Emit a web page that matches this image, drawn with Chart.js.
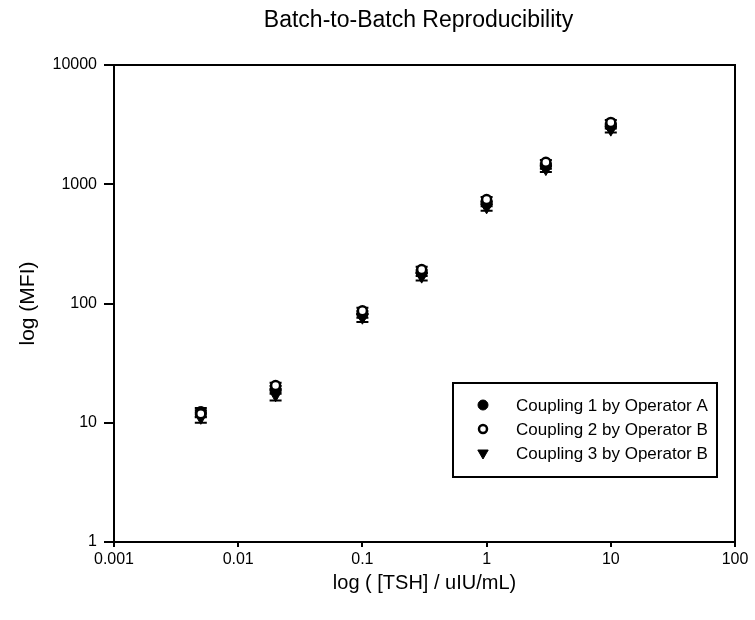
<!DOCTYPE html>
<html>
<head>
<meta charset="utf-8">
<script src="https://cdn.jsdelivr.net/npm/chart.js"></script>
<style>
  html, body { margin: 0; padding: 0; background: #fff; }
</style>
</head>
<body>
<canvas id="tshChart" width="755" height="620"></canvas>
<script>
  // TSH concentration (uIU/mL) and MFI per coupling
  const concentrations = [0.005, 0.02, 0.1, 0.3, 1, 3, 10];
  const coupling1 = [12.3, 18.9, 81, 180, 690, 1420, 3080];
  const coupling2 = [11.9, 20.5, 87, 193, 745, 1530, 3300];
  const coupling3 = [11.0, 17.0, 76, 168, 640, 1340, 2870];
  const err1 = [1.0, 1.4, 5, 10, 35, 70, 150];
  const err2 = [0.8, 1.2, 5, 10, 35, 70, 150];
  const err3 = [1.0, 1.6, 6, 12, 40, 75, 160];
  const seriesNames = ['Coupling 1 by Operator A', 'Coupling 2 by Operator B', 'Coupling 3 by Operator B'];
  const xTickValues = [0.001, 0.01, 0.1, 1, 10, 100];
  const yTickValues = [1, 10, 100, 1000, 10000];

  const FONT = '"Liberation Sans", Arial, Helvetica, sans-serif';
  Chart.defaults.font.family = FONT;
  Chart.defaults.color = '#000';

  const toPoints = (vals, errs) => concentrations.map((x, i) => ({ x: x, y: vals[i], err: errs[i] }));

  const datasets = [
    { label: seriesNames[0], data: toPoints(coupling1, err1), order: 1,
      pointStyle: 'circle', pointRadius: 5.5, pointBackgroundColor: '#000', pointBorderColor: '#000', pointBorderWidth: 1 },
    { label: seriesNames[1], data: toPoints(coupling2, err2), order: 0,
      pointStyle: 'circle', pointRadius: 4.5, pointBackgroundColor: '#fff', pointBorderColor: '#000', pointBorderWidth: 2.5 },
    { label: seriesNames[2], data: toPoints(coupling3, err3), order: 2,
      pointStyle: 'triangle', pointRotation: 180, pointRadius: 6.5, pointBackgroundColor: '#000', pointBorderColor: '#000', pointBorderWidth: 1 }
  ];

  const errorBars = {
    id: 'errorBars',
    beforeDatasetsDraw(chart) {
      const { ctx, scales } = chart;
      ctx.save();
      ctx.strokeStyle = '#000';
      ctx.lineWidth = 2;
      chart.data.datasets.forEach(ds => {
        ds.data.forEach(p => {
          const px = scales.x.getPixelForValue(p.x);
          const top = scales.y.getPixelForValue(p.y + p.err);
          const bot = scales.y.getPixelForValue(p.y - p.err);
          ctx.beginPath();
          ctx.moveTo(px, top); ctx.lineTo(px, bot);
          ctx.moveTo(px - 6, top); ctx.lineTo(px + 6, top);
          ctx.moveTo(px - 6, bot); ctx.lineTo(px + 6, bot);
          ctx.stroke();
        });
      });
      ctx.restore();
    }
  };

  const frameAndText = {
    id: 'frameAndText',
    afterDraw(chart) {
      const { ctx, chartArea: a } = chart;
      ctx.save();
      ctx.strokeStyle = '#000';
      ctx.lineWidth = 2;
      ctx.strokeRect(a.left, a.top, a.right - a.left, a.bottom - a.top);

      // title
      ctx.fillStyle = '#000';
      ctx.font = '23px ' + FONT;
      ctx.textAlign = 'center';
      ctx.textBaseline = 'middle';
      ctx.fillText('Batch-to-Batch Reproducibility', (a.left + a.right) / 2 - 6, 21);

      // legend box
      const bx = a.right - 282, by = a.bottom - 159, bw = 264, bh = 94;
      ctx.strokeRect(bx, by, bw, bh);
      ctx.font = '17px ' + FONT;
      ctx.textAlign = 'left';
      chart.data.datasets.forEach((ds, i) => {
        const ly = by + 22 + i * 24;
        ctx.fillStyle = ds.pointBackgroundColor;
        ctx.strokeStyle = ds.pointBorderColor;
        ctx.lineWidth = ds.pointBorderWidth;
        Chart.helpers.drawPoint(ctx, {
          pointStyle: ds.pointStyle, rotation: ds.pointRotation || 0,
          radius: ds.pointRadius - 0.5, borderWidth: ds.pointBorderWidth
        }, bx + 30, ly);
        ctx.fillStyle = '#000';
        ctx.fillText(ds.label, bx + 63, ly + 1);
      });
      ctx.restore();
    }
  };

  new Chart(document.getElementById('tshChart'), {
    type: 'scatter',
    data: { datasets: datasets },
    options: {
      responsive: false,
      animation: false,
      layout: { padding: { top: 65, right: 20, left: 0, bottom: 0 } },
      plugins: { legend: { display: false }, tooltip: { enabled: false } },
      scales: {
        x: {
          type: 'logarithmic', min: 0.001, max: 100,
          afterBuildTicks: s => { s.ticks = xTickValues.map(v => ({ value: v })); },
          afterFit: s => { s.height = 78; },
          grid: { display: true, drawOnChartArea: false, drawTicks: true, tickLength: 5, color: '#000', lineWidth: 2 },
          border: { display: true, color: '#000', width: 2 },
          ticks: { color: '#000', font: { size: 16 }, padding: 3, maxRotation: 0, autoSkip: false,
                   callback: v => String(v) },
          title: { display: true, text: 'log ( [TSH] / uIU/mL)', color: '#000', font: { size: 20 }, padding: { bottom: 25 } }
        },
        y: {
          type: 'logarithmic', min: 1, max: 10000,
          afterBuildTicks: s => { s.ticks = yTickValues.map(v => ({ value: v })); },
          afterFit: s => { s.width = 114; },
          grid: { display: true, drawOnChartArea: false, drawTicks: true, tickLength: 10, color: '#000', lineWidth: 2 },
          border: { display: true, color: '#000', width: 2 },
          ticks: { color: '#000', font: { size: 16 }, padding: 7, autoSkip: false,
                   callback: v => String(v) },
          title: { display: true, text: 'log (MFI)', color: '#000', font: { size: 21 }, padding: { top: 16 } }
        }
      }
    },
    plugins: [errorBars, frameAndText]
  });
</script>
</body>
</html>
